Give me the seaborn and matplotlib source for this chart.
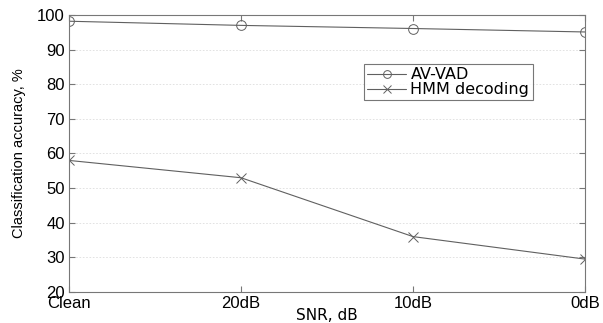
import pandas as pd
import seaborn as sns
import matplotlib.pyplot as plt

# values
snr_labels = ["Clean", "20dB", "10dB", "0dB"]
av_vad = [98.2, 97.0, 96.1, 95.1]
hmm_decoding = [58.0, 53.0, 36.0, 29.5]

pos = list(range(len(snr_labels)))
df_av = pd.DataFrame({"pos": pos, "acc": av_vad})
df_hmm = pd.DataFrame({"pos": pos, "acc": hmm_decoding})

sns.set_style("white")
plt.rcParams["font.family"] = ["Liberation Sans", "DejaVu Sans"]
plt.rcParams["text.color"] = "black"
plt.rcParams["axes.labelcolor"] = "black"

fig = plt.figure(figsize=(6.03, 3.23), dpi=100)
ax = fig.add_axes([69 / 603, 1 - 292 / 323, 516 / 603, 277 / 323])

line_col = "#606060"
sns.lineplot(data=df_av, x="pos", y="acc", marker="o", color=line_col,
             linewidth=0.8, markersize=7, markerfacecolor="none",
             markeredgecolor=line_col, markeredgewidth=0.7,
             label="AV-VAD", ax=ax)
sns.lineplot(data=df_hmm, x="pos", y="acc", marker="x", color=line_col,
             linewidth=0.8, markersize=7, markeredgecolor=line_col,
             markeredgewidth=0.7, label="HMM decoding", ax=ax)

ax.set_xlim(0, 3)
ax.set_ylim(20, 100)
ax.set_xticks(pos)
ax.set_xticklabels(snr_labels)
ax.set_yticks(range(20, 101, 10))
ax.yaxis.grid(True, linestyle=(0, (2, 2)), color="#dddddd", linewidth=0.6)
ax.tick_params(direction="in", length=4, color="#777777", labelsize=12,
               labelcolor="black", top=True, right=True, bottom=True,
               left=True, pad=3)
for s in ax.spines.values():
    s.set_color("#777777")
    s.set_linewidth(0.8)

ax.set_xlabel("SNR, dB", fontsize=11, family=["DejaVu Sans"], labelpad=-2)
ax.set_ylabel("Classification accuracy, %", fontsize=10.5, labelpad=8)

leg = ax.legend(loc="upper left", bbox_to_anchor=(0.572, 0.823),
                borderaxespad=0, prop={"family": "DejaVu Sans", "size": 11.5},
                frameon=True, fancybox=False, handlelength=2.4,
                handletextpad=0.3, borderpad=0.2, labelspacing=0.0,
                markerscale=0.8)
leg.get_frame().set_edgecolor("#555555")
leg.get_frame().set_linewidth(0.8)

fig.savefig("out.png", dpi=100)
